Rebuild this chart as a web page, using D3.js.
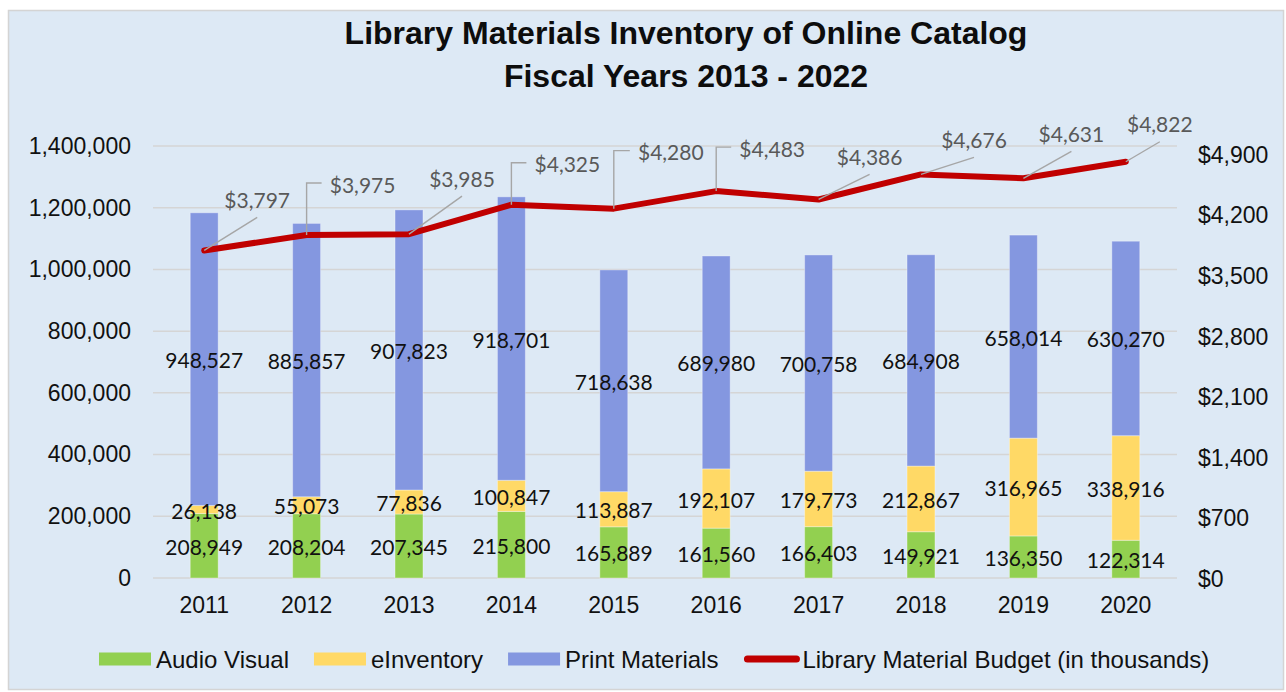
<!DOCTYPE html>
<html>
<head>
<meta charset="utf-8">
<script src="https://cdn.jsdelivr.net/npm/d3@7"></script>
<style>
  body { margin: 0; background: #fff; }
  text { font-family: "Liberation Sans", Arial, sans-serif; }
  .lbl { font-family: Lato, "Open Sans", sans-serif; }
</style>
</head>
<body>
<div id="chart"></div>
<script>
// data
var years = ['2011', '2012', '2013', '2014', '2015', '2016', '2017', '2018', '2019', '2020'];
var audioVisual = [208949, 208204, 207345, 215800, 165889, 161560, 166403, 149921, 136350, 122314];
var eInventory = [26138, 55073, 77836, 100847, 113887, 192107, 179773, 212867, 316965, 338916];
var printMaterials = [948527, 885857, 907823, 918701, 718638, 689980, 700758, 684908, 658014, 630270];
var budget = [3797, 3975, 3985, 4325, 4280, 4483, 4386, 4676, 4631, 4822];
var leftTicks = [0, 200000, 400000, 600000, 800000, 1000000, 1200000, 1400000];
var rightTicks = [0, 700, 1400, 2100, 2800, 3500, 4200, 4900];
var seriesNames = ['Audio Visual', 'eInventory', 'Print Materials'];
var lineName = 'Library Material Budget (in thousands)';
var titleLines = ['Library Materials Inventory of Online Catalog', 'Fiscal Years 2013 - 2022'];

// where the budget labels sit relative to their point, and how the leader is drawn
var budgetLabelPos = [
    {dx: 53, dy: -50, leader: 'diag'},
    {dx: 56, dy: -50, leader: 'elbow'},
    {dx: 53, dy: -55, leader: 'diag'},
    {dx: 56, dy: -40, leader: 'elbow'},
    {dx: 57, dy: -56, leader: 'elbow'},
    {dx: 56, dy: -42, leader: 'elbow'},
    {dx: 51, dy: -42, leader: 'diag'},
    {dx: 53, dy: -34, leader: 'diag'},
    {dx: 48, dy: -44, leader: 'diag'},
    {dx: 34, dy: -37, leader: 'diag'}
];

var chart_width = 1286;
var chart_height = 692;
var colors = ['#92d050', '#ffd966', '#8497e0'];
var lineColor = '#c00000';
var plot = {left: 153, right: 1177, top: 146, bottom: 578};

var svg = d3.select('#chart')
    .append('svg')
    .attr('width', chart_width)
    .attr('height', chart_height);

// background panel
svg.append('rect')
    .attr('x', 8.5).attr('y', 10.5)
    .attr('width', 1275).attr('height', 679)
    .attr('fill', '#dde9f5')
    .attr('stroke', '#d4d4d4')
    .attr('stroke-width', 1.5);

// title
svg.append('g').selectAll('text')
    .data(titleLines)
    .enter()
    .append('text')
    .attr('x', 686)
    .attr('y', (d, i) => 44 + i * 43)
    .attr('text-anchor', 'middle')
    .attr('font-size', 32)
    .attr('font-weight', 'bold')
    .attr('fill', '#0d0d0d')
    .text(d => d);

// scales
var x_scale = d3.scaleBand()
    .domain(years)
    .range([plot.left, plot.right])
    .paddingInner(0.727)
    .paddingOuter(0.3635);

var y_scale = d3.scaleLinear()
    .domain([0, 1400000])
    .range([plot.bottom, plot.top]);

var y2_scale = d3.scaleLinear()
    .domain([0, 4900])
    .range([579, 155]);

// gridlines
svg.append('g').selectAll('line')
    .data(leftTicks)
    .enter()
    .append('line')
    .attr('x1', plot.left).attr('x2', plot.right)
    .attr('y1', d => y_scale(d)).attr('y2', d => y_scale(d))
    .attr('stroke', '#d5d5d5')
    .attr('stroke-width', 1.5);

// left axis
var y_axis = d3.axisLeft(y_scale)
    .tickValues(leftTicks)
    .tickSize(0)
    .tickPadding(0)
    .tickFormat(d3.format(','));

svg.append('g')
    .attr('class', 'y-axis')
    .attr('transform', 'translate(131, 0)')
    .call(y_axis)
    .call(g => g.select('.domain').remove())
    .selectAll('text')
    .attr('font-family', '"Liberation Sans", Arial, sans-serif')
    .attr('font-size', 23)
    .attr('fill', '#111');

// right axis
var y2_axis = d3.axisRight(y2_scale)
    .tickValues(rightTicks)
    .tickSize(0)
    .tickPadding(0)
    .tickFormat(d => '$' + d3.format(',')(d));

svg.append('g')
    .attr('class', 'y2-axis')
    .attr('transform', 'translate(1198, 0)')
    .call(y2_axis)
    .call(g => g.select('.domain').remove())
    .selectAll('text')
    .attr('font-family', '"Liberation Sans", Arial, sans-serif')
    .attr('font-size', 23)
    .attr('fill', '#111');

// x axis
var x_axis = d3.axisBottom(x_scale)
    .tickSize(0)
    .tickPadding(0);

svg.append('g')
    .attr('class', 'x-axis')
    .attr('transform', 'translate(0, 597)')
    .call(x_axis)
    .call(g => g.select('.domain').remove())
    .selectAll('text')
    .attr('font-family', '"Liberation Sans", Arial, sans-serif')
    .attr('font-size', 23)
    .attr('fill', '#111');

// stacked bars
var rows = years.map((y, i) => ({year: y, av: audioVisual[i], ei: eInventory[i], pm: printMaterials[i]}));
var stack = d3.stack().keys(['av', 'ei', 'pm'])(rows);

var layers = svg.append('g').selectAll('g')
    .data(stack)
    .enter()
    .append('g')
    .attr('fill', (d, i) => colors[i]);

layers.selectAll('rect')
    .data(d => d)
    .enter()
    .append('rect')
    .attr('x', d => x_scale(d.data.year))
    .attr('width', x_scale.bandwidth())
    .attr('y', d => y_scale(d[1]))
    .attr('height', d => y_scale(d[0]) - y_scale(d[1]))
    .attr('stroke', 'rgba(255,255,255,0.35)')
    .attr('stroke-width', 1);

// bar labels
var labels = svg.append('g').selectAll('g')
    .data(stack)
    .enter()
    .append('g');

labels.selectAll('text')
    .data(d => d)
    .enter()
    .append('text')
    .attr('class', 'lbl')
    .attr('x', d => x_scale(d.data.year) + x_scale.bandwidth() / 2)
    .attr('y', d => y_scale((d[0] + d[1]) / 2) + 1.5)
    .attr('dy', '0.36em')
    .attr('text-anchor', 'middle')
    .attr('font-size', 21)
    .attr('fill', '#111')
    .text(d => d3.format(',')(d[1] - d[0]));

// budget line
var cx = d => x_scale(d) + x_scale.bandwidth() / 2;
var line = d3.line()
    .x((d, i) => cx(years[i]))
    .y(d => y2_scale(d));

svg.append('path')
    .datum(budget)
    .attr('d', line)
    .attr('fill', 'none')
    .attr('stroke', lineColor)
    .attr('stroke-width', 6)
    .attr('stroke-linejoin', 'round')
    .attr('stroke-linecap', 'round');

// budget labels with leader lines
var budgetG = svg.append('g');
budget.forEach((v, i) => {
    var px = cx(years[i]);
    var py = y2_scale(v);
    var p = budgetLabelPos[i];
    var lx = px + p.dx;
    var ly = py + p.dy;
    var pts;
    if (p.leader === 'elbow') {
        pts = [[px, py], [px, ly - 2], [lx - 41, ly - 2]];
    } else {
        pts = [[px, py], [lx, ly + 17]];
    }
    budgetG.append('path')
        .attr('d', d3.line()(pts))
        .attr('fill', 'none')
        .attr('stroke', '#a6a6a6')
        .attr('stroke-width', 1.4);
    budgetG.append('text')
        .attr('class', 'lbl')
        .attr('x', lx)
        .attr('y', ly)
        .attr('dy', '0.36em')
        .attr('text-anchor', 'middle')
        .attr('font-size', 21)
        .attr('fill', '#595959')
        .text('$' + d3.format(',')(v));
});

// legend
var legend = svg.append('g').attr('transform', 'translate(0, 659)');
var lx = 99;
seriesNames.forEach((name, i) => {
    legend.append('rect')
        .attr('x', lx).attr('y', -6.5)
        .attr('width', 52).attr('height', 13)
        .attr('fill', colors[i]);
    var t = legend.append('text')
        .attr('x', lx + 57)
        .attr('y', 8.5)
        .attr('font-size', 24)
        .attr('fill', '#111')
        .text(name);
    lx += 57 + t.node().getComputedTextLength() + 25;
});
legend.append('line')
    .attr('x1', lx + 4).attr('x2', lx + 53)
    .attr('y1', 0).attr('y2', 0)
    .attr('stroke', lineColor)
    .attr('stroke-width', 7)
    .attr('stroke-linecap', 'round');
legend.append('text')
    .attr('x', lx + 59)
    .attr('y', 8.5)
    .attr('font-size', 24)
    .attr('fill', '#111')
    .text(lineName);
</script>
</body>
</html>
